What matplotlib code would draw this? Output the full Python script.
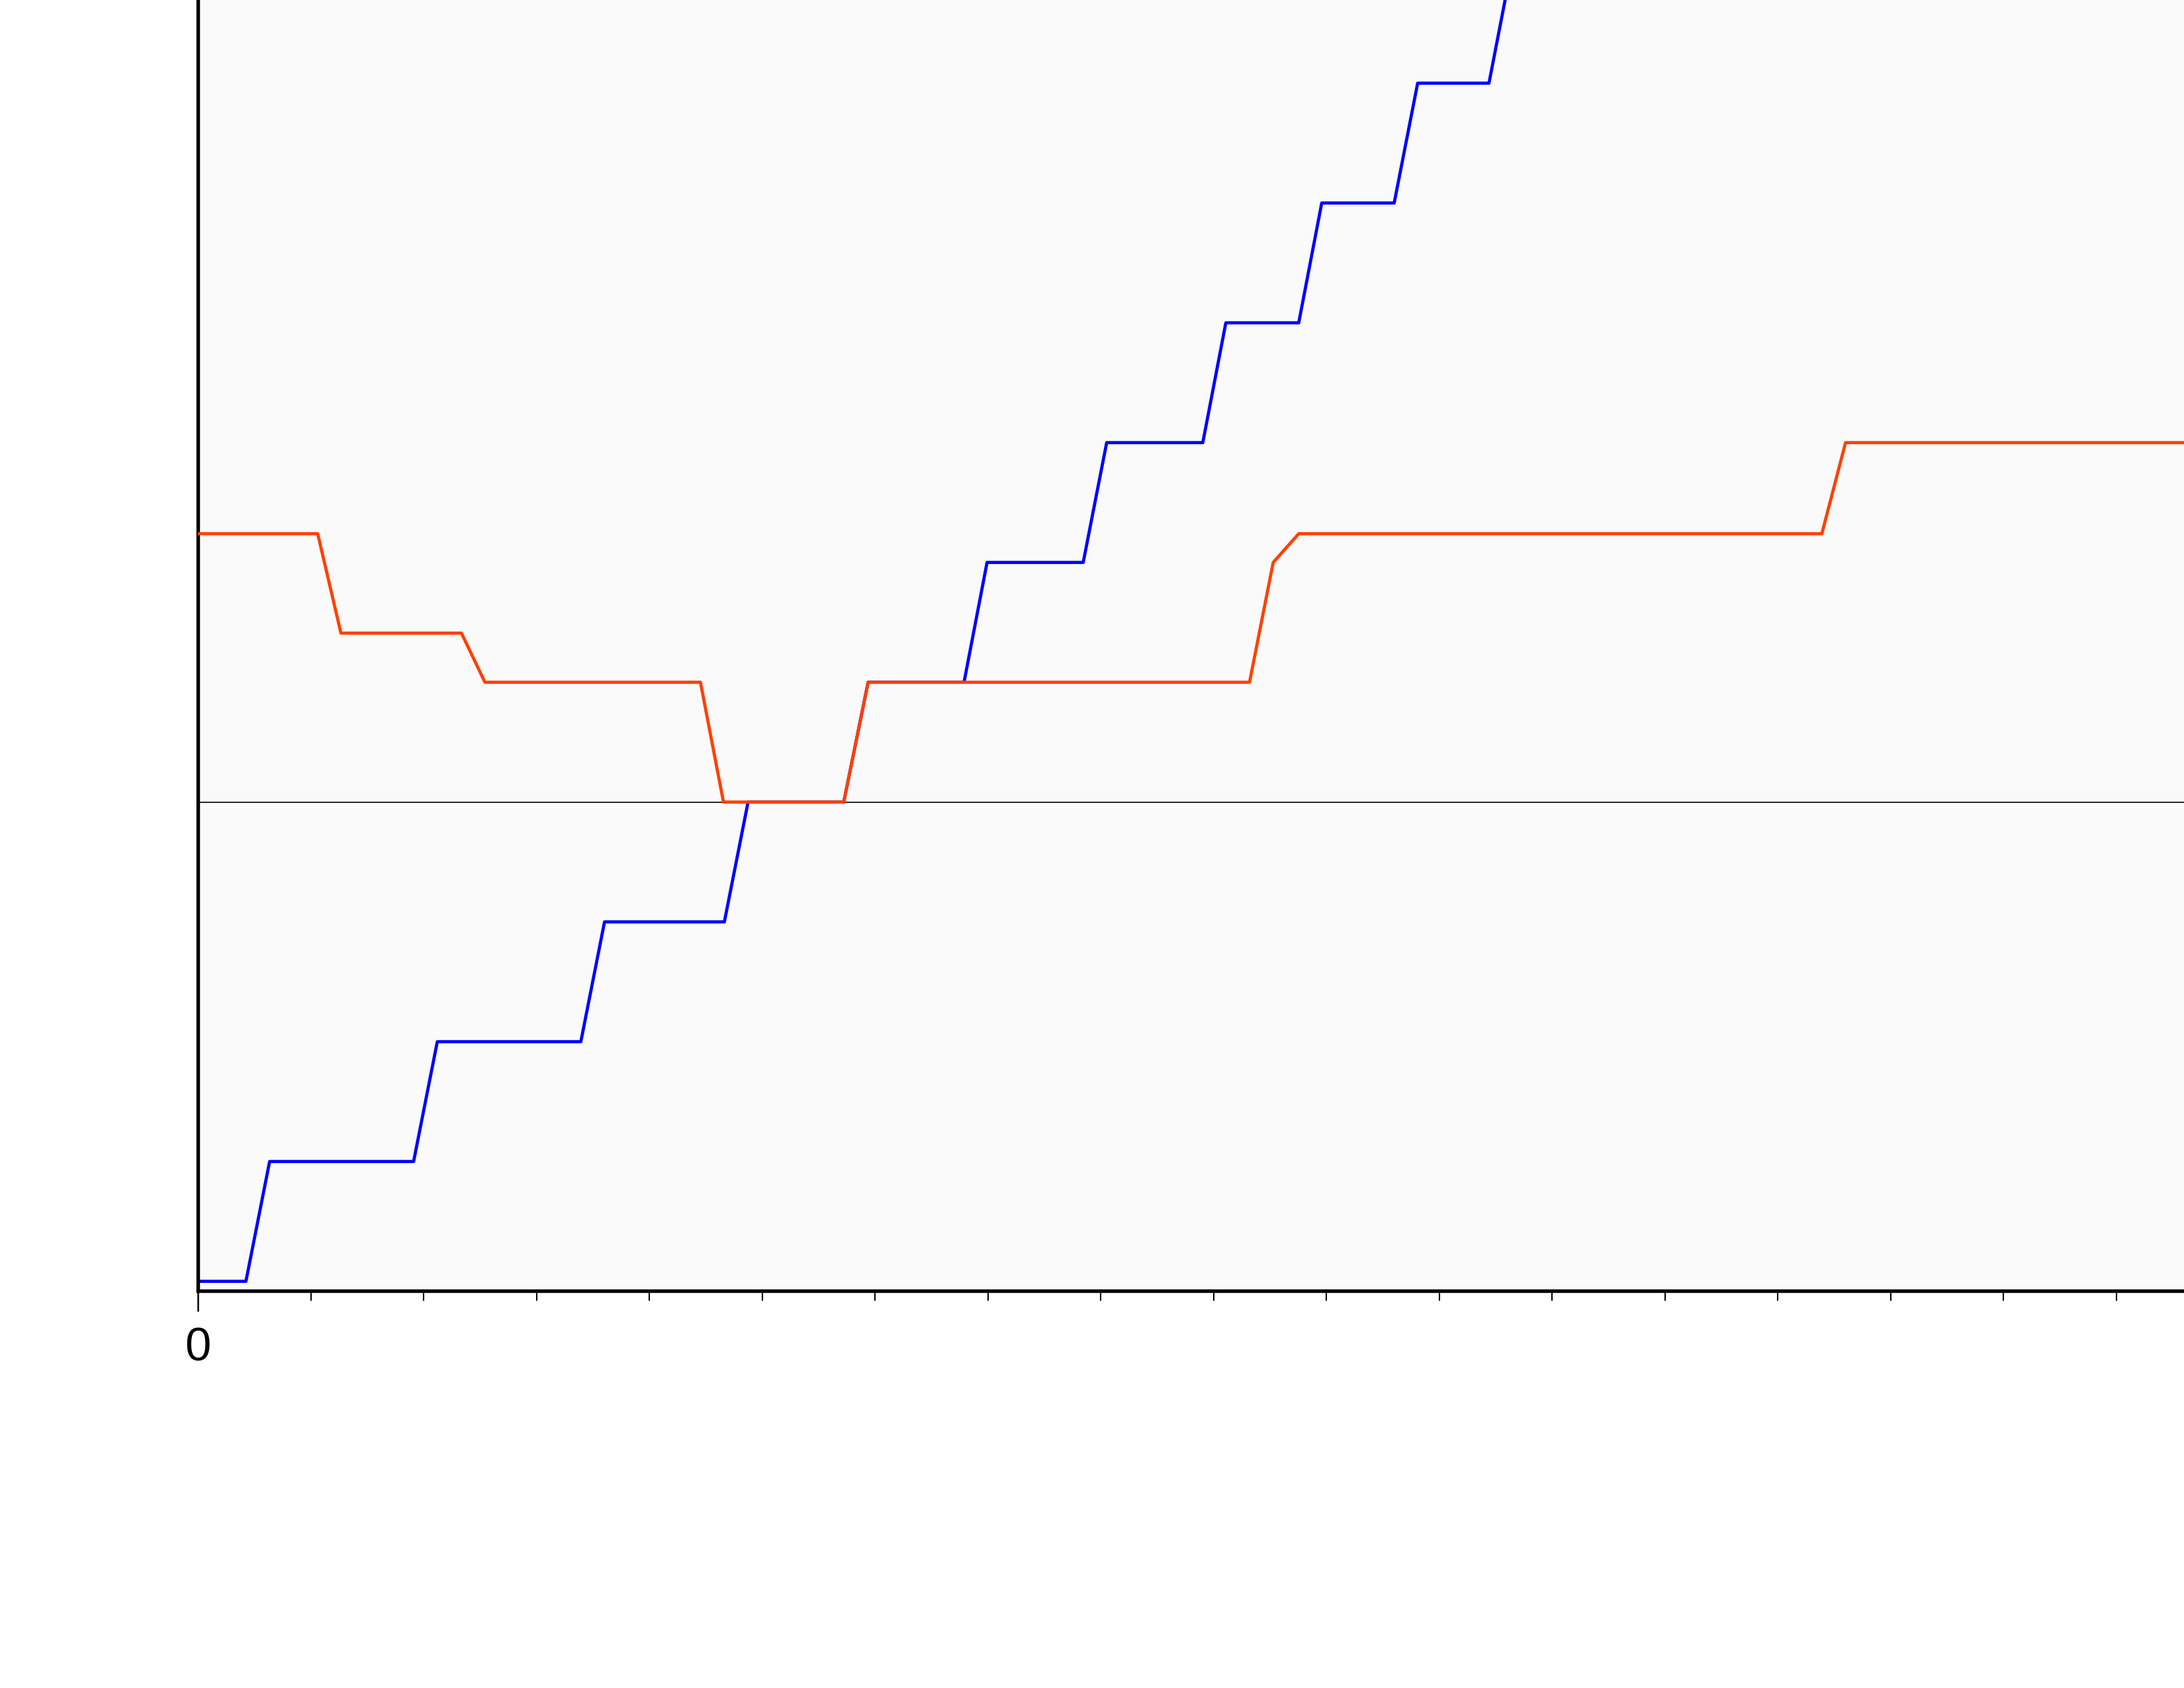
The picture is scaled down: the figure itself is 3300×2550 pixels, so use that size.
import numpy as np
import matplotlib.pyplot as plt
from matplotlib.ticker import FixedLocator, MultipleLocator

# x positions in axis units (minor tick every 5), y in step levels
blue_x = [0, 2.12, 3.17, 9.55, 10.60, 16.96, 18.01, 23.32, 24.37, 28.61,
          29.69, 33.94, 34.96, 39.22, 40.26, 44.52, 45.54, 48.77, 49.79,
          53.00, 54.04, 57.20, 58.23, 61.40, 62.45]
blue_y = [-4, -4, -3, -3, -2, -2, -1, -1, 0, 0,
          1, 1, 2, 2, 3, 3, 4, 4, 5,
          5, 6, 6, 7, 7, 8]

red_x = [0, 5.30, 6.33, 11.67, 12.71, 22.26, 23.28, 28.61, 29.69,
         46.59, 47.64, 48.77, 71.95, 73.00, 100]
red_y = [2.24, 2.24, 1.41, 1.41, 1.0, 1.0, 0, 0, 1,
         1, 2, 2.24, 2.24, 3, 3]

plt.rcParams['font.family'] = ['Liberation Sans', 'DejaVu Sans']

fig = plt.figure(figsize=(11, 8.5), dpi=300)
# the plot area runs past the top and right edges of the page
ax = fig.add_axes([299.3 / 3300, 0.2351, 3410 / 3300, 0.7866])
ax.set_facecolor('#fafafa')

ax.axhline(0, color='black', lw=0.4, zorder=1)
ax.plot(blue_x, blue_y, color='#0000ff', lw=1.15, zorder=2)
ax.plot(red_x, red_y, color='#ff4000', lw=1.15, zorder=3)

ax.set_xlim(0, 100)
ax.set_ylim(-4.082, 7)

# only the zero tick is a labelled major tick on the visible page
ax.xaxis.set_major_locator(FixedLocator([0]))
ax.xaxis.set_minor_locator(MultipleLocator(5))
ax.tick_params(axis='x', which='major', length=7.5, width=0.6, pad=5.5,
               labelsize=17, color='black')
ax.tick_params(axis='x', which='minor', length=3.5, width=0.5, color='black')
ax.tick_params(axis='y', which='both', left=False, labelleft=False)

for side in ['left', 'bottom']:
    ax.spines[side].set_linewidth(1.3)
    ax.spines[side].set_color('black')

fig.savefig('out.png', dpi=300)
